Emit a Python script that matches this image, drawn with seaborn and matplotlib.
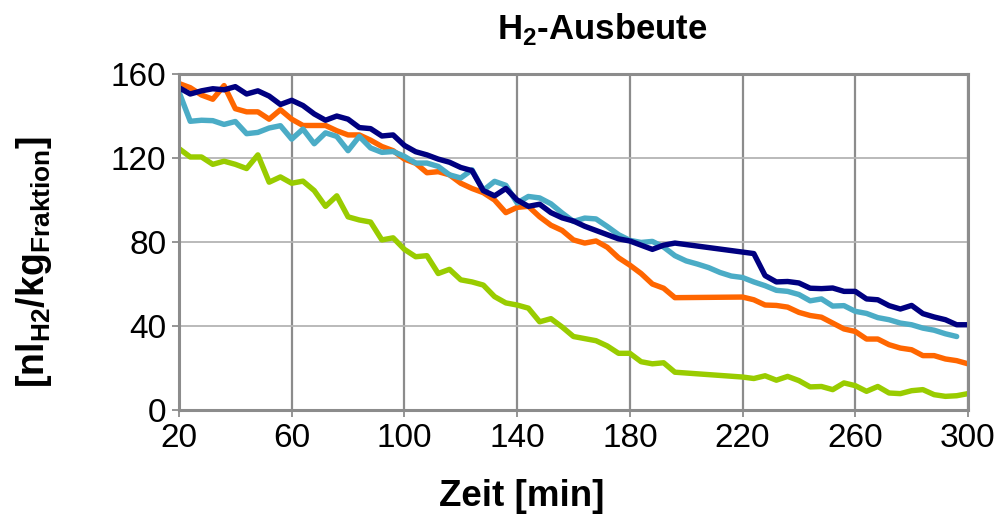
import numpy as np
import pandas as pd
import matplotlib
matplotlib.use('Agg')
import matplotlib.pyplot as plt
import seaborn as sns

# time grid [min]
zeit = list(range(20, 301, 4))

# H2 yield per run [nl_H2 / kg_Fraktion], NaN = no measurement
nan = np.nan
navy = [153.5, 150.5, 152, 153, 152.5, 154, 150.5, 152, 149.5, 145.5, 147.5, 145, 141, 138, 140,
        138.5, 134.5, 134, 130.5, 131, 126, 123, 121.5, 119.5, 118, 115.5, 114, 104.5, 102, 105.5,
        100, 97, 98, 94, 91.5, 90, 87.5, 85.5, 83.5, 81.5, 80.5, 78.5, 76.5, 78.5, 79.5,
        nan, nan, nan, nan, nan, nan, 74.5, 64, 61, 61.2, 60.5, 58, 57.8,
        58.1, 56.5, 56.5, 52.9, 52.5, 49.7, 48.1, 49.8, 45.9, 44.3, 43.0, 40.6, 40.6]
orange = [155.5, 153.5, 150, 148, 154.5, 143.5, 142, 142, 138.5, 143, 138.5, 135.5, 135.5, 135.5, 133,
          131, 131, 128.5, 125.5, 123.5, 119.5, 117.5, 113, 113.5, 112, 108, 105.5, 103.5, 100, 94,
          96.5, 97, 92, 88, 85.5, 81, 79.5, 80.5, 77.5, 72.5, 69, 65, 60, 58, 53.5,
          nan, nan, nan, nan, nan, 53.8, 52.5, 50, 49.8, 49, 46.5, 45, 44.2,
          41.4, 38.6, 37.4, 33.8, 33.8, 31.1, 29.5, 28.7, 25.9, 25.9, 24.3, 23.5, 22.0]
cyan = [151.5, 137.5, 138, 137.8, 136, 137.4, 131.6, 132.2, 134.3, 135.4, 129, 133.8, 126.8, 132, 130.3,
        123.5, 130.3, 124.8, 122.7, 123.1, 120.8, 117.6, 117.6, 116, 112, 110.5, 114.4, 104.6, 108.9, 107,
        98.6, 101.7, 101, 98.2, 93.8, 89.8, 91.4, 91, 87.4, 83.5, 80.8, 79.8, 80.3, 77.6, 73.5,
        71, 69.5, 67.8, 65.5, 63.8, 63.1, 61, 59.2, 57, 56.5, 55, 52, 52.9,
        49.5, 49.7, 47, 46, 44, 43, 41.4, 40.6, 39, 38, 36.3, 35, nan]
green = [124.5, 120.5, 120.5, 117, 118.5, 117, 115, 121.5, 108.5, 111, 108, 109, 104.5, 97, 102,
         92, 90.5, 89.5, 81, 82, 76.5, 73, 73.5, 65, 67, 62, 61, 59.5, 54, 51,
         50, 48.5, 42, 43.5, 39.5, 35, 34, 33, 30.5, 27, 27, 23, 22, 22.5, 18,
         nan, nan, nan, nan, nan, 15.7, 15, 16.3, 14.2, 16, 14, 11, 11.2,
         9.7, 12.9, 11.6, 8.9, 11.2, 8.1, 7.8, 9.2, 9.7, 7.3, 6.5, 6.8, 7.8]

series = {'navy': navy, 'orange': orange, 'cyan': cyan, 'green': green}
colors = {'navy': '#000080', 'orange': '#FF6600', 'cyan': '#4BACC6', 'green': '#99CC00'}

frames = []
for name, vals in series.items():
    frames.append(pd.DataFrame({'zeit': zeit, 'ausbeute': vals, 'serie': name}))
df = pd.concat(frames).dropna()

sns.set_theme(style='white')
plt.rcParams['font.family'] = ['Liberation Sans', 'DejaVu Sans']
plt.rcParams['mathtext.fontset'] = 'custom'
plt.rcParams['mathtext.rm'] = 'Liberation Sans'
plt.rcParams['mathtext.bf'] = 'Liberation Sans:bold'
plt.rcParams['text.color'] = 'black'
plt.rcParams['axes.labelcolor'] = 'black'

fig = plt.figure(figsize=(10.01, 5.27), dpi=100)
ax = fig.add_axes([0.1788, 0.222, 0.7882, 0.6375])

sns.lineplot(data=df, x='zeit', y='ausbeute', hue='serie', palette=colors,
             hue_order=['green', 'orange', 'cyan', 'navy'],
             sort=False, estimator=None, linewidth=3.9, legend=False, ax=ax)

ax.set_xlim(20, 300)
ax.set_ylim(0, 160)
ax.set_xticks(range(20, 301, 40))
ax.set_yticks(range(0, 161, 40))
ax.xaxis.grid(True, color='#8c8c8c', linewidth=1.6)
ax.yaxis.grid(True, color='#b4b4b4', linewidth=1.3)
ax.set_axisbelow(True)
for sp in ax.spines.values():
    sp.set_color('#8c8c8c')
    sp.set_linewidth(2.2)
ax.tick_params(axis='both', which='major', labelsize=24, length=5, width=1.3,
               color='#8c8c8c', labelcolor='black', direction='out',
               bottom=True, left=True, pad=4)

ax.set_xlabel('Zeit [min]', fontsize=26.5, fontweight='bold', va='top')
ax.xaxis.set_label_coords(0.435, -0.205)
ax.set_ylabel(r'[nl$_{\mathbf{H2}}$/kg$_{\mathbf{Fraktion}}$]', fontsize=27, fontweight='bold')
ax.yaxis.set_label_coords(-0.158, 0.44)
ax.set_title(r'H$_\mathbf{2}$-Ausbeute', fontsize=25, fontweight='bold', x=0.536, y=1.104, pad=0)

fig.savefig('out.png', dpi=100)
